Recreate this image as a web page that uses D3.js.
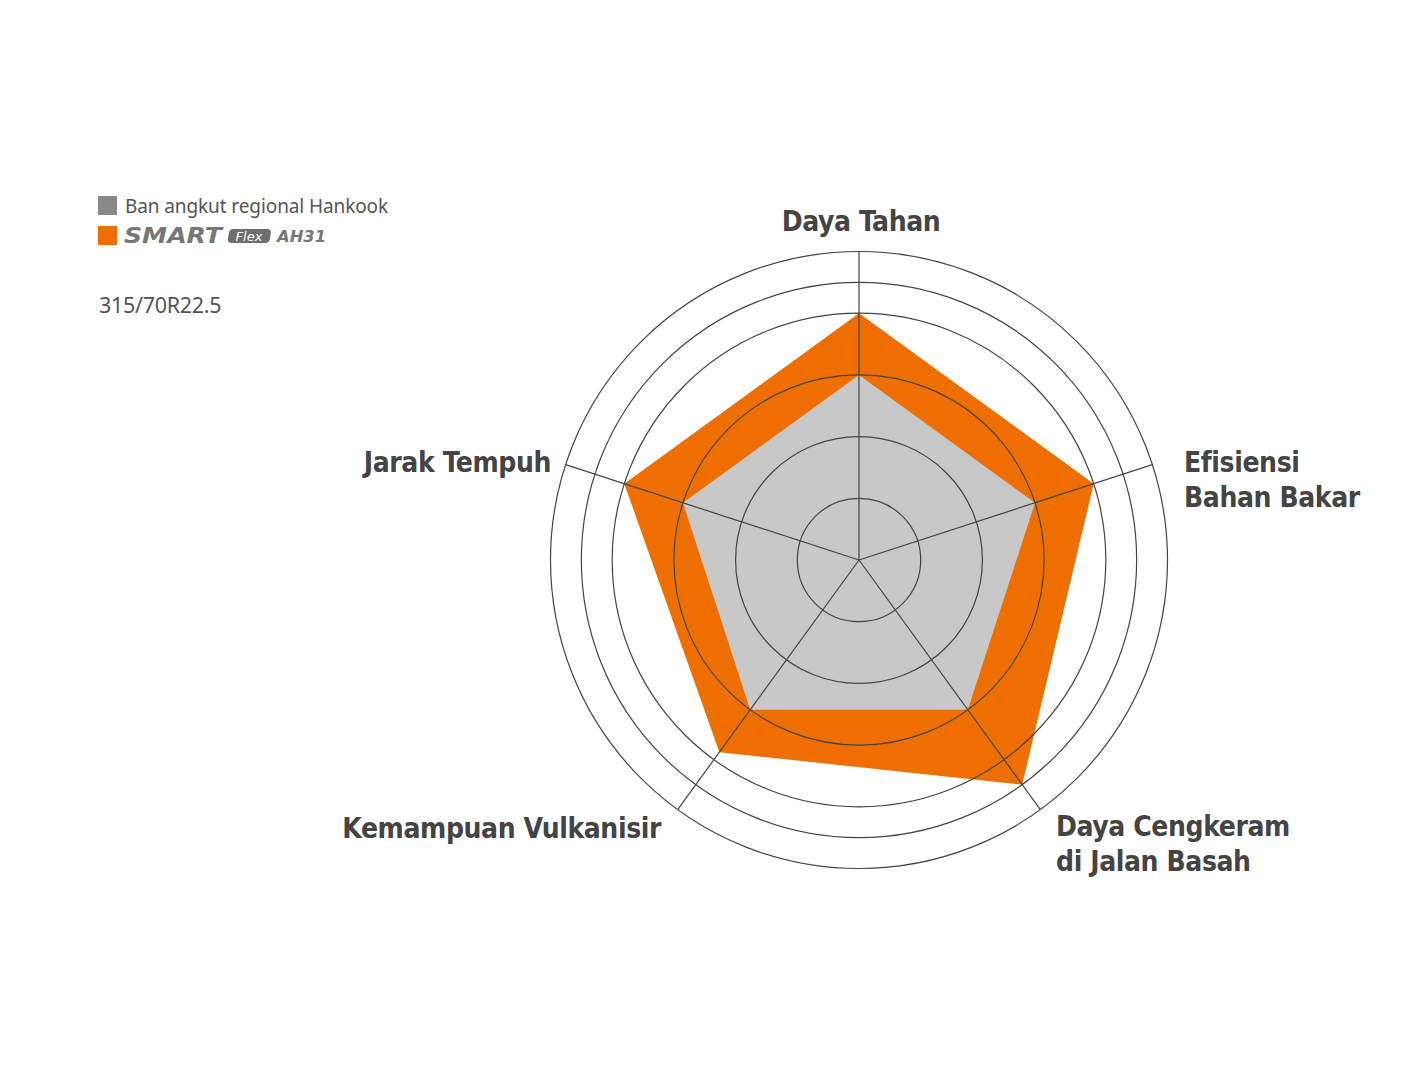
<!DOCTYPE html>
<html>
<head>
<meta charset="utf-8">
<script src="https://cdn.jsdelivr.net/npm/d3@7"></script>
<style>
  body { margin: 0; background: #fff; }
  svg { display: block; }
</style>
</head>
<body>
<div id="chart"></div>
<script>
// Axis names, clockwise from the top
var categories = ['Daya Tahan', 'Efisiensi Bahan Bakar', 'Daya Cengkeram di Jalan Basah',
  'Kemampuan Vulkanisir', 'Jarak Tempuh'];
// Ban angkut regional Hankook
var regionalValues = [3, 3, 3, 3, 3];
// SMART Flex AH31
var smartValues = [4, 4, 4.5, 3.85, 4];
// Grid rings
var ringLevels = [1, 2, 3, 4, 4.5, 5];
var maxLevel = 5;

var width = 1416, height = 1072;
var cx = 859, cy = 560, outerR = 308.5;

var svg = d3.select('#chart').append('svg')
  .attr('width', width)
  .attr('height', height);

var r = d3.scaleLinear().domain([0, maxLevel]).range([0, outerR]);
var angle = d3.scaleBand().domain(categories).range([0, 2 * Math.PI]).align(0).paddingInner(0);
// angle measured clockwise from 12 o'clock
function pt(cat, v) {
  var a = angle(cat);
  return [cx + r(v) * Math.sin(a), cy - r(v) * Math.cos(a)];
}

var line = d3.line().curve(d3.curveLinearClosed);

// Series polygons
svg.append('path')
  .attr('d', line(categories.map(function(c, i) { return pt(c, smartValues[i]); })))
  .style('fill', '#ee6f00');
svg.append('path')
  .attr('d', line(categories.map(function(c, i) { return pt(c, regionalValues[i]); })))
  .style('fill', '#c8c8c8');

// Rings on top
svg.selectAll('circle.ring')
  .data(ringLevels)
  .enter()
  .append('circle')
  .attr('class', 'ring')
  .attr('cx', cx)
  .attr('cy', cy)
  .attr('r', function(d) { return r(d); })
  .style('fill', 'none')
  .style('stroke', '#444')
  .style('stroke-width', 1.2);

// Spokes
svg.selectAll('line.spoke')
  .data(categories)
  .enter()
  .append('line')
  .attr('class', 'spoke')
  .attr('x1', cx)
  .attr('y1', cy)
  .attr('x2', function(d) { return pt(d, maxLevel)[0]; })
  .attr('y2', function(d) { return pt(d, maxLevel)[1]; })
  .style('stroke', '#444')
  .style('stroke-width', 1.2);

// Axis labels (layout only)
var labelLayout = [
  { lines: ['Daya Tahan'], x: 861, y: 231, anchor: 'middle' },
  { lines: ['Efisiensi', 'Bahan Bakar'], x: 1184, y: 472, anchor: 'start' },
  { lines: ['Daya Cengkeram', 'di Jalan Basah'], x: 1056, y: 836, anchor: 'start' },
  { lines: ['Kemampuan Vulkanisir'], x: 661, y: 838, anchor: 'end' },
  { lines: ['Jarak Tempuh'], x: 551, y: 472, anchor: 'end' }
];

var labels = svg.selectAll('text.axis-label')
  .data(labelLayout)
  .enter()
  .append('text')
  .attr('class', 'axis-label')
  .attr('x', function(d) { return d.x; })
  .attr('y', function(d) { return d.y; })
  .style('text-anchor', function(d) { return d.anchor; })
  .style('font-family', '"DejaVu Sans Condensed", "DejaVu Sans", sans-serif')
  .style('font-weight', 'bold')
  .style('font-size', '28px')
  .style('letter-spacing', '-0.4px')
  .style('fill', '#444');

labels.selectAll('tspan')
  .data(function(d) { return d.lines.map(function(l) { return { text: l, x: d.x }; }); })
  .enter()
  .append('tspan')
  .attr('x', function(d) { return d.x; })
  .attr('dy', function(d, i) { return i === 0 ? 0 : 35; })
  .text(function(d) { return d.text; });

// Legend
svg.append('rect')
  .attr('x', 98).attr('y', 196).attr('width', 19).attr('height', 19)
  .style('fill', '#888');
svg.append('text')
  .attr('x', 125).attr('y', 213)
  .style('font-family', '"Noto Sans", sans-serif')
  .style('font-size', '19px')
  .style('letter-spacing', '-0.1px')
  .style('fill', '#555')
  .text('Ban angkut regional Hankook');

svg.append('rect')
  .attr('x', 98).attr('y', 226).attr('width', 19).attr('height', 19)
  .style('fill', '#ee6f00');

// SMART Flex AH31 logo, approximated with text
var logo = svg.append('g');
logo.append('text')
  .attr('x', 124).attr('y', 243)
  .style('font-family', '"DejaVu Sans", sans-serif')
  .style('font-weight', 'bold')
  .style('font-style', 'italic')
  .style('font-size', '21px')
  .style('fill', '#777')
  .attr('textLength', 98)
  .attr('lengthAdjust', 'spacingAndGlyphs')
  .text('SMART');
logo.append('rect')
  .attr('x', 228).attr('y', 229).attr('width', 42).attr('height', 14)
  .attr('rx', 4).attr('ry', 4)
  .attr('transform', 'skewX(-10) translate(42,0)')
  .style('fill', '#6e6e6e');
logo.append('text')
  .attr('x', 249).attr('y', 241)
  .style('text-anchor', 'middle')
  .style('font-family', '"DejaVu Sans", sans-serif')
  .style('font-style', 'italic')
  .style('font-size', '13px')
  .style('fill', '#fff')
  .text('Flex');
logo.append('text')
  .attr('x', 277).attr('y', 242)
  .style('font-family', '"DejaVu Sans", sans-serif')
  .style('font-weight', 'bold')
  .style('font-style', 'italic')
  .style('font-size', '15px')
  .style('fill', '#777')
  .attr('textLength', 49)
  .attr('lengthAdjust', 'spacingAndGlyphs')
  .text('AH31');

svg.append('text')
  .attr('x', 99).attr('y', 313)
  .style('font-family', '"Noto Sans", sans-serif')
  .style('font-size', '21.5px')
  .style('letter-spacing', '-0.3px')
  .style('fill', '#555')
  .text('315/70R22.5');
</script>
</body>
</html>
